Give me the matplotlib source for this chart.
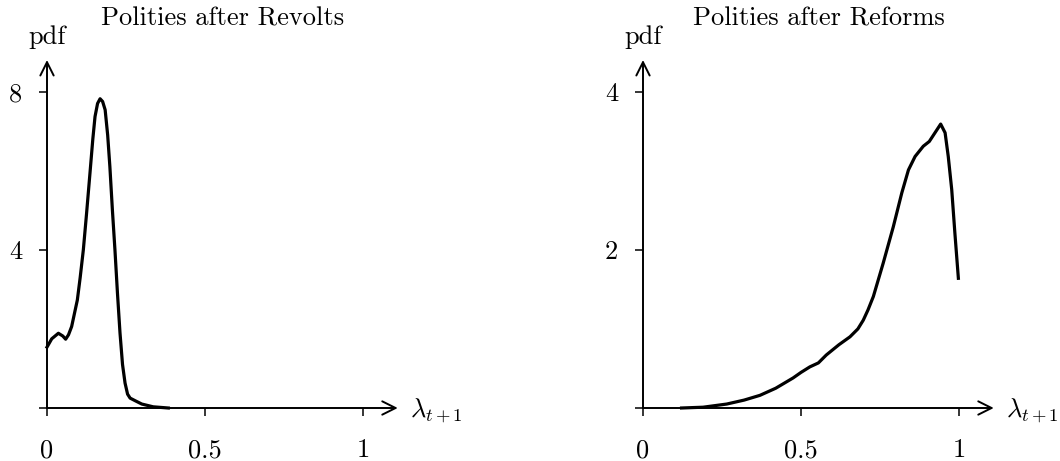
import matplotlib
matplotlib.use("Agg")
from matplotlib import pyplot as plt

plt.rcParams["font.family"] = "cmr10"
plt.rcParams["mathtext.fontset"] = "cm"
plt.rcParams["axes.formatter.use_mathtext"] = True

# kernel density of next-period lambda, read per polity type
revolt_x = [0, 0.015, 0.036, 0.05, 0.059, 0.068, 0.078, 0.096, 0.105, 0.115, 0.125,
            0.136, 0.145, 0.152, 0.16, 0.168, 0.176, 0.184, 0.192, 0.199, 0.207,
            0.215, 0.223, 0.231, 0.239, 0.247, 0.255, 0.263, 0.28, 0.3, 0.336, 0.384]
revolt_pdf = [1.54, 1.75, 1.89, 1.82, 1.74, 1.85, 2.06, 2.73, 3.3, 4.0, 4.9,
              5.94, 6.8, 7.37, 7.7, 7.82, 7.75, 7.54, 6.9, 6.1, 5.0,
              4.0, 2.9, 1.9, 1.1, 0.63, 0.35, 0.25, 0.18, 0.1, 0.03, 0.0]

reform_x = [0.122, 0.19, 0.265, 0.32, 0.37, 0.42, 0.475, 0.5, 0.528, 0.555, 0.58,
            0.62, 0.655, 0.68, 0.697, 0.712, 0.729, 0.76, 0.792, 0.819, 0.84,
            0.861, 0.887, 0.906, 0.924, 0.942, 0.956, 0.966, 0.977, 0.987, 0.998]
reform_pdf = [0, 0.01, 0.05, 0.1, 0.16, 0.25, 0.38, 0.45, 0.52, 0.57, 0.67,
              0.8, 0.9, 1.0, 1.11, 1.24, 1.41, 1.83, 2.29, 2.72, 3.01,
              3.18, 3.31, 3.37, 3.48, 3.59, 3.48, 3.18, 2.76, 2.21, 1.64]

panels = [
    ("Polities after Revolts", revolt_x, revolt_pdf, [0, 4, 8], 8.8, 47),
    ("Polities after Reforms", reform_x, reform_pdf, [0, 2, 4], 4.4, 643),
]
xticks = [0, 0.5, 1]
xticklabels = ["0", "0.5", "1"]

W, H = 1060, 461
fig = plt.figure(figsize=(W / 100, H / 100), dpi=100)

for title, x, y, yt, ytop, left_px in panels:
    xmax = 1.11
    ax = fig.add_axes([left_px / W, (H - 408) / H, xmax * 316 / W, 348 / H])
    ax.set_xlim(0, xmax)
    ax.set_ylim(0, ytop)
    for s in ax.spines.values():
        s.set_visible(False)

    # axis lines with open arrow heads
    arrow = dict(arrowstyle="->", lw=1.4, color="black", mutation_scale=24,
                 shrinkA=0, shrinkB=0)
    ax.annotate("", xy=(xmax, 0), xytext=(0, 0), arrowprops=arrow,
                annotation_clip=False)
    ax.annotate("", xy=(0, ytop), xytext=(0, 0), arrowprops=arrow,
                annotation_clip=False)

    ax.plot(x, y, color="black", lw=2.3, clip_on=False, solid_joinstyle="round")

    ax.set_xticks(xticks)
    ax.set_xticklabels(xticklabels)
    ax.set_yticks(yt)
    ax.set_yticklabels(["" if v == 0 else str(v) for v in yt])
    ax.tick_params(axis="x", direction="out", length=6, width=1.1, pad=16,
                   labelsize=19)
    ax.tick_params(axis="y", direction="out", length=6, width=1.1, pad=12,
                   labelsize=19)

    ax.set_title(title, fontsize=19, pad=25)
    ax.annotate("pdf", xy=(0, 1), xycoords="axes fraction", xytext=(0, 23),
                textcoords="offset pixels", ha="center", va="center",
                fontsize=19)
    ax.annotate(r"$\lambda_{t+1}$", xy=(xmax, 0), xycoords="data",
                xytext=(12, -3), textcoords="offset pixels", ha="left",
                va="center", fontsize=19, annotation_clip=False)

fig.savefig("out.png", dpi=100)
